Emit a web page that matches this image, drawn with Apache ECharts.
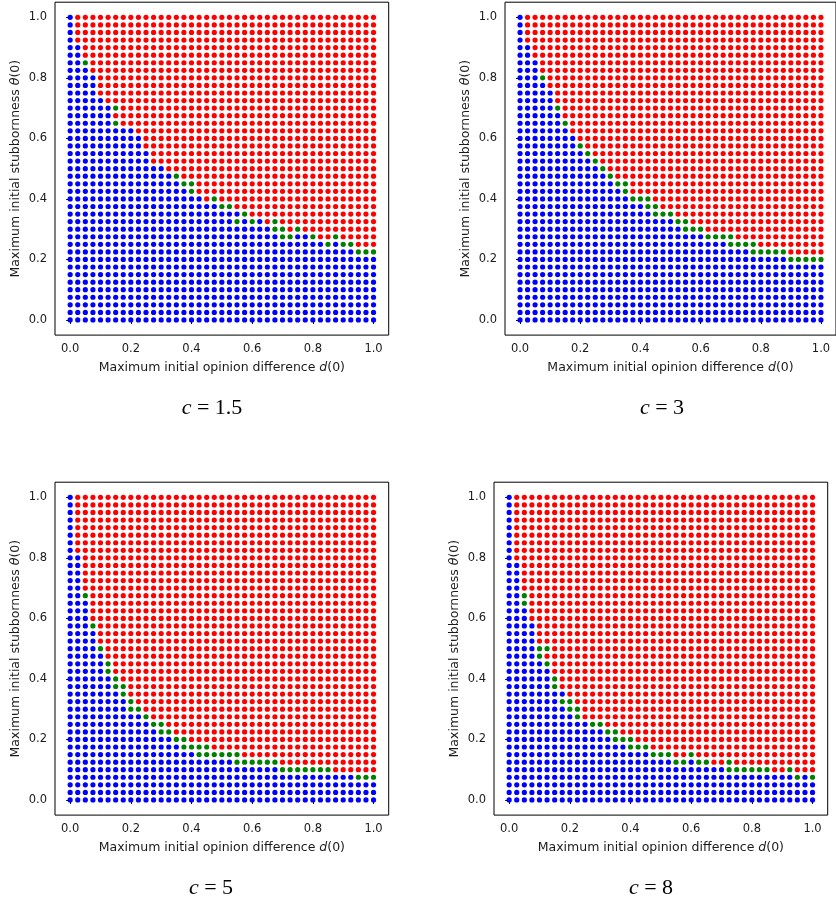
<!DOCTYPE html>
<html>
<head>
<meta charset="utf-8">
<script src="https://cdn.jsdelivr.net/npm/echarts@6/dist/echarts.min.js"></script>
<style>
  html, body { margin: 0; padding: 0; background: #fff; }
  #chart { width: 836px; height: 902px; }
</style>
</head>
<body>
<div id="chart"></div>
<script>
// 41 x 41 lattice of (d(0), theta(0)) values
const gridSteps = [0, 0.025, 0.05, 0.075, 0.1, 0.125, 0.15, 0.175, 0.2, 0.225, 0.25, 0.275, 0.3,
  0.325, 0.35, 0.375, 0.4, 0.425, 0.45, 0.475, 0.5, 0.525, 0.55, 0.575, 0.6, 0.625, 0.65, 0.675,
  0.7, 0.725, 0.75, 0.775, 0.8, 0.825, 0.85, 0.875, 0.9, 0.925, 0.95, 0.975, 1]
const tickValues = [0, 0.2, 0.4, 0.6, 0.8, 1.0]
const captions = ['1.5', '3', '5', '8']

// number of blue points from the bottom in each column (d index)
const blueHeight15 = [41, 37, 34, 33, 30, 29, 26, 26, 26, 25, 23, 21, 21, 20, 19, 18, 17, 17, 16, 16,
  15, 15, 15, 14, 13, 14, 13, 12, 11, 11, 12, 12, 11, 11, 10, 11, 10, 10, 9, 9, 9]
const blueHeight3 = [41, 37, 35, 32, 31, 28, 26, 25, 23, 22, 21, 20, 19, 18, 17, 16, 16, 15, 14, 14,
  14, 13, 12, 12, 12, 11, 11, 11, 10, 10, 10, 9, 9, 9, 9, 9, 8, 8, 8, 8, 8]
const blueHeight5 = [41, 33, 27, 23, 20, 17, 15, 14, 12, 12, 11, 10, 9, 9, 8, 7, 7, 6, 6, 6,
  6, 6, 5, 5, 5, 5, 5, 5, 4, 4, 4, 4, 4, 4, 4, 4, 4, 4, 3, 3, 3]
const blueHeight8 = [41, 32, 26, 24, 19, 18, 15, 15, 12, 11, 11, 10, 10, 9, 8, 8, 7, 7, 7, 6,
  6, 6, 5, 5, 6, 5, 5, 5, 5, 4, 4, 4, 4, 4, 4, 4, 4, 4, 3, 4, 3]

// green points as [column, row] indices
const green15 = [[2, 34], [6, 26], [6, 28], [14, 19], [15, 18], [16, 17], [16, 18], [19, 16], [20, 15],
  [21, 15], [22, 13], [23, 14], [24, 13], [27, 12], [27, 13], [28, 11], [28, 12], [29, 11], [30, 12],
  [32, 11], [34, 10], [35, 11], [36, 10], [37, 10], [38, 9], [39, 9], [40, 9]]
const green3 = [[3, 32], [5, 28], [6, 26], [8, 23], [9, 22], [10, 21], [11, 20], [12, 19], [13, 18],
  [14, 17], [14, 18], [15, 16], [16, 16], [17, 15], [17, 16], [18, 14], [18, 15], [19, 14], [20, 14],
  [21, 13], [22, 12], [22, 13], [23, 12], [24, 12], [25, 11], [26, 11], [27, 11], [28, 10], [28, 11],
  [29, 10], [30, 10], [31, 9], [31, 10], [32, 9], [33, 9], [34, 9], [35, 9], [36, 8], [37, 8],
  [38, 8], [39, 8], [40, 8]]
const green5 = [[2, 27], [3, 23], [4, 20], [5, 17], [5, 18], [6, 15], [6, 16], [7, 14], [7, 15],
  [8, 12], [8, 13], [9, 12], [10, 11], [11, 10], [12, 9], [12, 10], [13, 9], [14, 8], [15, 7], [15, 8],
  [16, 7], [17, 6], [17, 7], [18, 6], [18, 7], [19, 6], [20, 6], [21, 6], [22, 5], [22, 6], [23, 5],
  [24, 5], [25, 5], [26, 5], [27, 5], [28, 4], [29, 4], [30, 4], [31, 4], [32, 4], [33, 4], [34, 4],
  [38, 3], [39, 3], [40, 3]]
const green8 = [[2, 26], [2, 27], [4, 19], [4, 20], [5, 18], [5, 20], [6, 15], [6, 16], [7, 13],
  [8, 12], [8, 13], [9, 11], [9, 12], [11, 10], [12, 10], [13, 9], [14, 8], [14, 9], [15, 8], [16, 7],
  [16, 8], [17, 7], [18, 7], [19, 6], [20, 6], [21, 6], [22, 5], [23, 5], [24, 6], [25, 5], [26, 5],
  [29, 4], [29, 5], [30, 4], [31, 4], [32, 4], [33, 4], [34, 4], [37, 4], [38, 3], [40, 3]]

const panels = [
  { heights: blueHeight15, greens: green15, left: 55, top: 2.2, cx: 212, cy: 408 },
  { heights: blueHeight3, greens: green3, left: 505, top: 2.2, cx: 662, cy: 408 },
  { heights: blueHeight5, greens: green5, left: 55, top: 482.2, cx: 211, cy: 888 },
  { heights: blueHeight8, greens: green8, left: 494, top: 482.2, cx: 651, cy: 888 },
]

const FONT = '"DejaVu Sans", sans-serif'
const SERIF = '"Liberation Serif", "DejaVu Serif", serif'
const TEXT = '#1a1a1a'

function splitPoints(heights, greens) {
  const greenSet = new Set(greens.map(([c, r]) => c + ',' + r))
  const blue = [], green = [], red = []
  gridSteps.forEach((d, c) => {
    gridSteps.forEach((t, r) => {
      if (greenSet.has(c + ',' + r)) green.push([d, t])
      else if (r < heights[c]) blue.push([d, t])
      else red.push([d, t])
    })
  })
  return { blue, green, red }
}

function axisBase(name, extra) {
  return Object.assign({
    type: 'value',
    min: -0.05,
    max: 1.05,
    name,
    nameLocation: 'middle',
    nameTextStyle: {
      fontFamily: FONT, fontSize: 12.5, color: TEXT,
      rich: { i: { fontFamily: FONT, fontSize: 12.5, color: TEXT, fontStyle: 'italic' } },
    },
    axisLine: { show: false },
    splitLine: { show: false },
    axisTick: { show: true, inside: false, length: 4, customValues: tickValues, lineStyle: { color: '#000', width: 1 } },
    axisLabel: {
      customValues: tickValues, margin: 8, fontFamily: FONT, fontSize: 11.5, color: TEXT,
      formatter: v => v.toFixed(1),
    },
  }, extra)
}

const grids = [], xAxes = [], yAxes = [], series = [], graphics = []
panels.forEach((p, i) => {
  grids.push({
    left: p.left, top: p.top, width: 333.7, height: 332.9,
    show: true, borderColor: '#000', borderWidth: 1, backgroundColor: 'transparent',
  })
  xAxes.push(axisBase('Maximum initial opinion difference {i|d}(0)', { gridIndex: i, nameGap: 26 }))
  yAxes.push(axisBase('Maximum initial stubbornness {i|θ}(0)', { gridIndex: i, nameGap: 33 }))
  const pts = splitPoints(p.heights, p.greens)
  const mk = (data, color) => ({
    type: 'scatter', xAxisIndex: i, yAxisIndex: i, data,
    symbol: 'circle', symbolSize: 5.2, itemStyle: { color, opacity: 1 }, silent: true,
  })
  series.push(mk(pts.blue, '#0000ff'), mk(pts.green, '#008000'), mk(pts.red, '#ff0000'))
  graphics.push({
    type: 'text', x: p.cx, y: p.cy,
    style: {
      text: '{i|c} = ' + captions[i],
      align: 'center', verticalAlign: 'middle',
      font: '22px ' + SERIF, fill: '#000',
      rich: { i: { fontStyle: 'italic', fontSize: 22, fontFamily: SERIF, fill: '#000' } },
    },
  })
})

const chart = echarts.init(document.getElementById('chart'), null, { renderer: 'canvas' })
chart.setOption({
  animation: false,
  backgroundColor: '#fff',
  grid: grids,
  xAxis: xAxes,
  yAxis: yAxes,
  series,
  graphic: graphics,
})
</script>
</body>
</html>
